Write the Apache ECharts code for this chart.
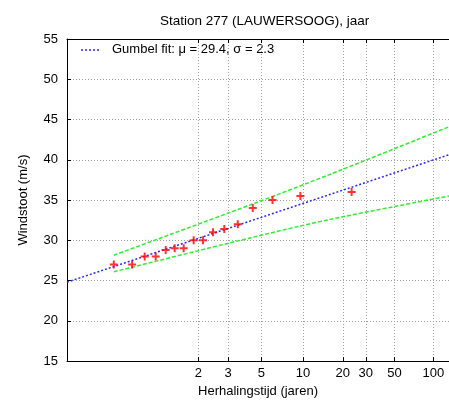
<!DOCTYPE html>
<html>
<head>
<meta charset="utf-8">
<script src="https://cdn.jsdelivr.net/npm/echarts@6/dist/echarts.min.js"></script>
<style>
html,body{margin:0;padding:0;background:#fff;}
#chart{width:449px;height:403px;}
</style>
</head>
<body>
<div id="chart"></div>
<script>
// Return-period tick labels (years)
const returnPeriods = [2, 3, 5, 10, 20, 30, 50, 100];
// Observed annual maxima: Gumbel reduced variate position and wind gust (m/s)
const obsX = [-1.157, -0.827, -0.600, -0.402, -0.222, -0.060, 0.102, 0.282, 0.451, 0.631, 0.834, 1.077, 1.347, 1.703, 2.205, 3.128];
const obsY = [27, 27, 28, 28, 28.8, 29, 29, 30, 30, 31, 31.4, 32, 34, 35, 35.5, 36];
// Gumbel fit line (mu = 29.4, sigma = 2.3)
const fitX = [-2, 4.883];
const fitY = [24.8, 40.63];
// Confidence band
const upperX = [-1.157, 1.302, 2.742, 4.883];
const upperY = [28.15, 34.4, 38.2, 44.1];
const lowerX = [-1.157, 1.302, 2.742, 4.883];
const lowerY = [26.09, 30.3, 32.6, 35.5];

const xMin = -2, xMax = 4.883;
const tickVals = returnPeriods.map(T => -Math.log(-Math.log(1 - 1 / T)));
function labelFor(v) {
  let best = 0, bd = Infinity;
  tickVals.forEach((t, i) => { const d = Math.abs(t - v); if (d < bd) { bd = d; best = i; } });
  return String(returnPeriods[best]);
}
const zip = (a, b) => a.map((x, i) => [x, b[i]]);
const FONT = 'Liberation Sans, Arial, Helvetica, sans-serif';

const chart = echarts.init(document.getElementById('chart'), null, {renderer: 'canvas'});
chart.setOption({
  animation: false,
  backgroundColor: '#fff',
  title: {
    text: 'Station 277 (LAUWERSOOG), jaar',
    left: 160, top: 14, padding: 0,
    textStyle: {fontFamily: FONT, fontSize: 13.5, fontWeight: 'normal', color: '#000'}
  },
  grid: {left: 67, top: 39, right: 0, bottom: 41, containLabel: false},
  xAxis: [{
    type: 'value', min: xMin, max: xMax, position: 'bottom',
    name: 'Herhalingstijd (jaren)', nameLocation: 'middle', nameGap: 23,
    nameTextStyle: {fontFamily: FONT, fontSize: 13, color: '#000'},
    axisLine: {show: true, onZero: false, lineStyle: {color: '#000', width: 1}},
    axisTick: {show: true, inside: true, length: 4, customValues: tickVals, lineStyle: {color: '#000'}},
    axisLabel: {show: true, customValues: tickVals, formatter: labelFor, margin: 6,
      fontFamily: FONT, fontSize: 13, color: '#000'},
    splitLine: {show: true, lineStyle: {color: '#a0a0a0', type: [1, 2], width: 1}}
  }, {
    type: 'value', min: xMin, max: xMax, position: 'top',
    axisLine: {show: true, onZero: false, lineStyle: {color: '#000', width: 1}},
    axisTick: {show: true, inside: true, length: 4, customValues: tickVals, lineStyle: {color: '#000'}},
    axisLabel: {show: false},
    splitLine: {show: false}
  }],
  yAxis: {
    type: 'value', min: 15, max: 55, interval: 5,
    name: 'Windstoot (m/s)', nameLocation: 'middle', nameGap: 37, nameRotate: 90,
    nameTextStyle: {fontFamily: FONT, fontSize: 13, color: '#000'},
    axisLine: {show: true, onZero: false, lineStyle: {color: '#000', width: 1}},
    axisTick: {show: true, inside: true, length: 4, lineStyle: {color: '#000'}},
    axisLabel: {margin: 9, fontFamily: FONT, fontSize: 13, color: '#000'},
    splitLine: {show: true, lineStyle: {color: '#a0a0a0', type: [1, 2], width: 1}}
  },
  series: [
    {
      type: 'line', name: 'fit', data: zip(fitX, fitY), showSymbol: false, symbol: 'none',
      lineStyle: {color: '#2a2aff', width: 1.5, type: [2, 2]}, z: 3, silent: true
    },
    {
      type: 'line', name: 'upper', data: zip(upperX, upperY), showSymbol: false, symbol: 'none', smooth: 0.3,
      lineStyle: {color: '#2ef02e', width: 1.5, type: [4, 2]}, z: 2, silent: true
    },
    {
      type: 'line', name: 'lower', data: zip(lowerX, lowerY), showSymbol: false, symbol: 'none', smooth: 0.3,
      lineStyle: {color: '#2ef02e', width: 1.5, type: [4, 2]}, z: 2, silent: true
    },
    {
      type: 'scatter', name: 'obs', data: zip(obsX, obsY),
      symbol: 'path://M-1,-4H1V-1H4V1H1V4H-1V1H-4V-1H-1Z', symbolSize: 8,
      itemStyle: {color: '#ff0000'}, z: 5, silent: true
    }
  ],
  graphic: [
    {type: 'line', shape: {x1: 81, y1: 50, x2: 101, y2: 50},
     style: {stroke: '#2a2aff', lineWidth: 1.5, lineDash: [2, 2]}},
    {type: 'text', left: 112, top: 43,
     style: {text: 'Gumbel fit: \u03bc = 29.4, \u03c3 = 2.3', font: '13px ' + FONT, fill: '#000'}}
  ]
});
</script>
</body>
</html>
